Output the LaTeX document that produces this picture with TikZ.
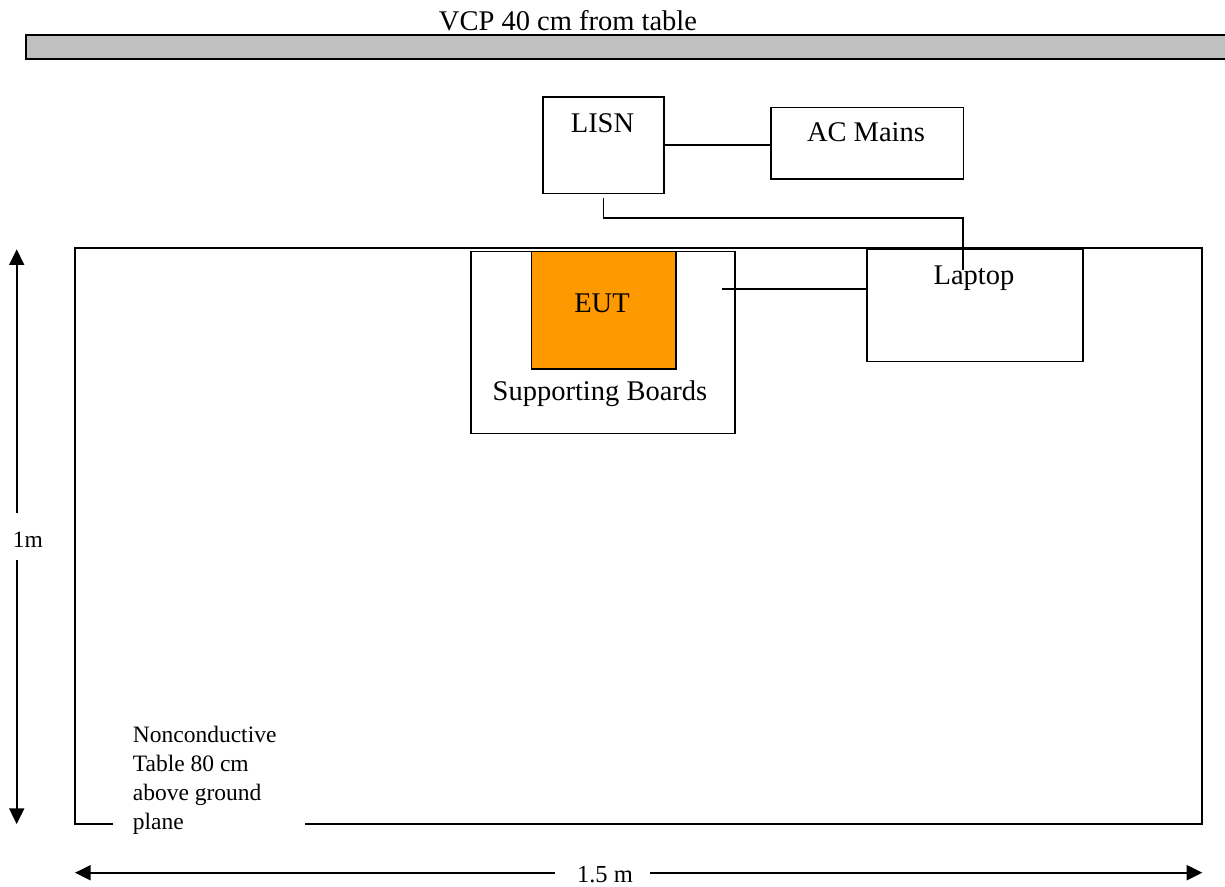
\documentclass[tikz,border=0pt]{standalone}
\usepackage{fontspec}
\setmainfont{Liberation Serif}
\usetikzlibrary{arrows.meta,calc}
\definecolor{vcpgray}{HTML}{C0C0C0}
\definecolor{eutorange}{HTML}{FF9900}
\tikzset{
  box/.style={draw=black, line width=1.7pt, rectangle, inner sep=0pt, anchor=north west},
  big/.style={font=\fontsize{28.5}{34}\selectfont, inner sep=0pt},
  small/.style={font=\fontsize{23.5}{29}\selectfont, inner sep=0pt},
  wire/.style={line width=1.6pt},
  outline/.style={line width=1.8pt},
  dimarrow/.style={line width=1.7pt, -{Triangle[length=15.6pt,width=15pt]}},
}
\begin{document}
\begin{tikzpicture}[x=1pt,y=-1pt]
\useasboundingbox (0,0) rectangle (1225,886);

% vertical coupling plane
\draw[line width=2pt, fill=vcpgray] (25.8,34.5) rectangle (1240,59.3);
\node[big, anchor=base] (vcplabel) at (568,30) {VCP 40 cm from table};

% nonconductive table outline, open where the caption sits
\coordinate (tblgapL) at (113,824.3);
\coordinate (tblgapR) at (305,824.3);
\draw[outline] (tblgapL) -- (75,824.3) -- (75,248.3) -- (1202.3,248.3) -- (1202.3,824.3) -- (tblgapR);
\node[small, align=left, anchor=north west] (tablelabel) at (132.7,725.8)
  {Nonconductive\\Table 80 cm\\above ground\\plane};

% equipment boxes
\node[box, minimum width=121pt, minimum height=96.7pt] (lisn) at (542,96) {};
\node[big, anchor=base] (lisnlabel) at (602.5,132) {LISN};
\node[box, minimum width=192.7pt, minimum height=71.6pt] (ac) at (770,106.7) {};
\node[big, anchor=base] (aclabel) at (866,141.5) {AC Mains};

\node[box, minimum width=264pt, minimum height=182.2pt] (boards) at (470.2,250.5) {};
\node[box, fill=eutorange, minimum width=144.6pt, minimum height=117.8pt] (eut) at (530.5,250.5) {};
\node[big, anchor=base] (eutlabel) at (602,312.5) {EUT};
\node[big, anchor=base] (boardslabel) at (600,400.5) {Supporting Boards};

\node[box, minimum width=216.4pt, minimum height=112.4pt] (laptop) at (866,248.3) {};
\node[big, anchor=base] (laptoplabel) at (974,284) {Laptop};

% cabling
\draw[wire] (lisn.east) -- (ac.west |- lisn.east);
\coordinate (lisnout) at ($(lisn.south)+(0,3.3)$);
\coordinate (laptopin) at (962.7,270);
\draw[wire] (lisnout) -- ++(0,20) -| (laptopin);
\coordinate (boardsout) at (722,288.7);
\draw[wire] (boardsout) -- (boardsout -| laptop.west);

% dimensions
\coordinate (vtop) at (16.7,249.3);
\coordinate (vtopend) at (16.7,513);
\coordinate (vbotstart) at (16.7,560);
\coordinate (vbot) at (16.7,824);
\draw[dimarrow] (vtopend) -- (vtop);
\draw[dimarrow] (vbotstart) -- (vbot);
\node[small, anchor=base] (heightlabel) at (28,547) {1m};

\coordinate (hleft) at (75,872.7);
\coordinate (hleftend) at (555,872.7);
\coordinate (hrightstart) at (650,872.7);
\coordinate (hright) at (1202.3,872.7);
\draw[dimarrow] (hleftend) -- (hleft);
\draw[dimarrow] (hrightstart) -- (hright);
\node[font=\fontsize{24.5}{29}\selectfont, inner sep=0pt, anchor=base] (widthlabel) at (605,882) {1.5 m};
\end{tikzpicture}
\end{document}
